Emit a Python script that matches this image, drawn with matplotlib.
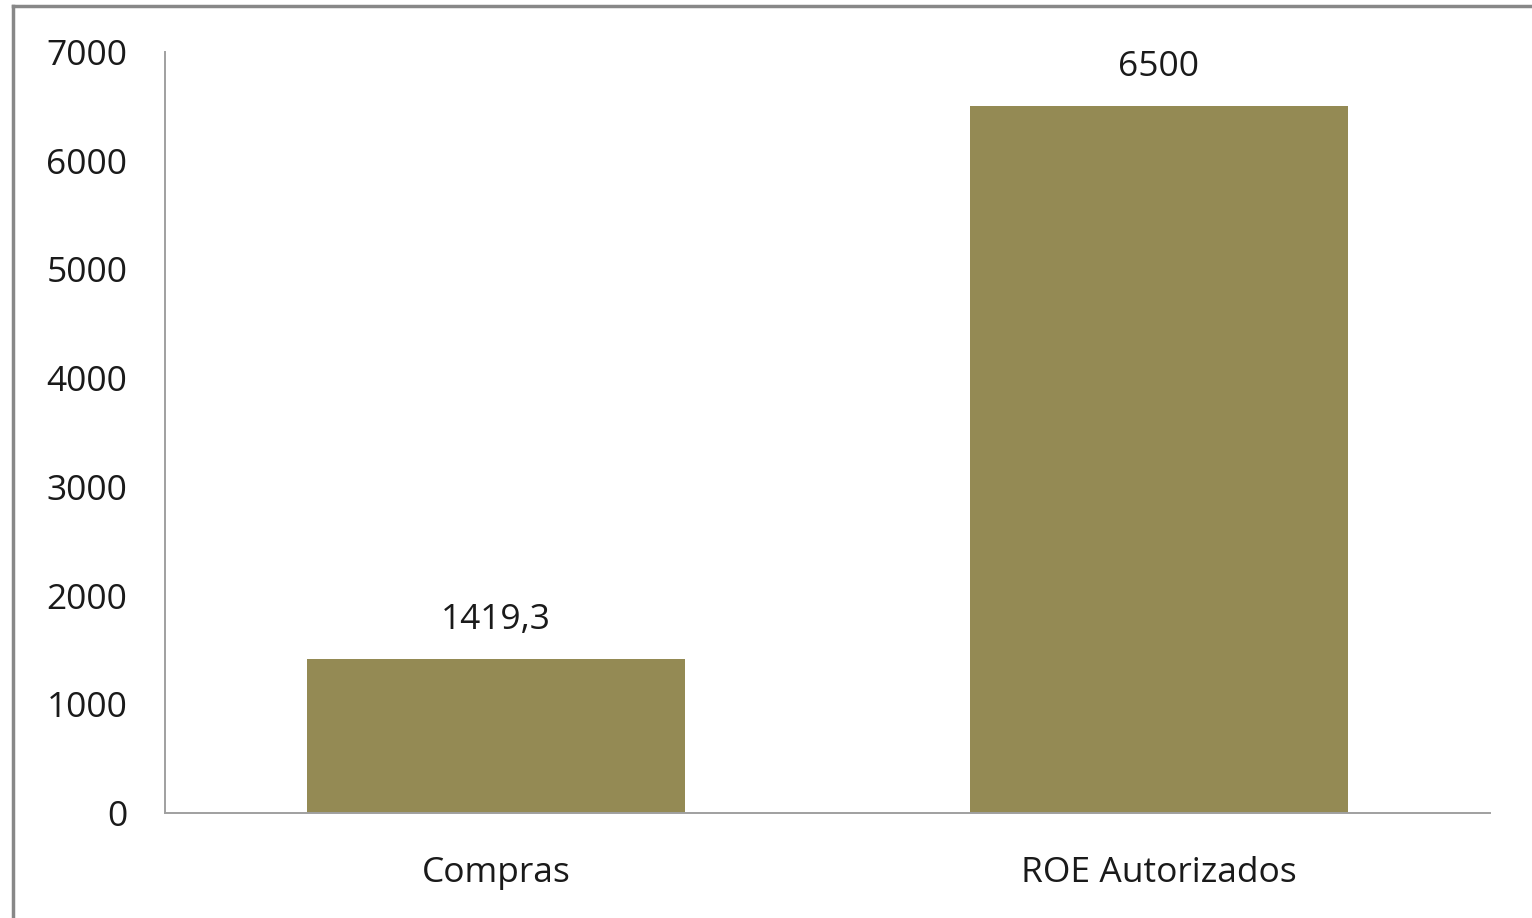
import numpy as np
import matplotlib.pyplot as plt
from matplotlib.lines import Line2D

categories = ['Compras', 'ROE Autorizados']
values = [1419.3, 6500]
labels = ['1419,3', '6500']
yticks = [0, 1000, 2000, 3000, 4000, 5000, 6000, 7000]

plt.rcParams['font.family'] = ['Open Sans', 'DejaVu Sans']

fig = plt.figure(figsize=(15.32, 9.18), dpi=100)
ax = fig.add_axes([0.1077, 0.1144, 0.8649, 0.829])

x = np.arange(len(categories))
ax.bar(x, values, width=0.57, color='#948A54')
for xi, v, lab in zip(x, values, labels):
    ax.annotate(lab, (xi, v), xytext=(0, 28), textcoords='offset points',
                ha='center', va='center', fontsize=25.5, color='#1a1a1a')

ax.set_xlim(-0.5, 1.5)
ax.set_ylim(0, 7000)
ax.set_yticks(yticks)
ax.set_xticks(x)
ax.set_xticklabels(categories)
ax.tick_params(axis='both', length=0, labelsize=25.5, colors='#1a1a1a')
ax.tick_params(axis='y', pad=27)
ax.tick_params(axis='x', pad=31)
for s in ['top', 'right']:
    ax.spines[s].set_visible(False)
for s in ['left', 'bottom']:
    ax.spines[s].set_color('#a0a0a0')
    ax.spines[s].set_linewidth(1.4)

# outer frame, only top and left edges show
fig.add_artist(Line2D([12.5/1532, 12.5/1532], [0, 1 - 5.5/918], transform=fig.transFigure,
                      color='#888888', lw=2.5))
fig.add_artist(Line2D([12.5/1532, 1], [1 - 5.5/918, 1 - 5.5/918], transform=fig.transFigure,
                      color='#888888', lw=2.5))

fig.savefig('out.png', dpi=100)
